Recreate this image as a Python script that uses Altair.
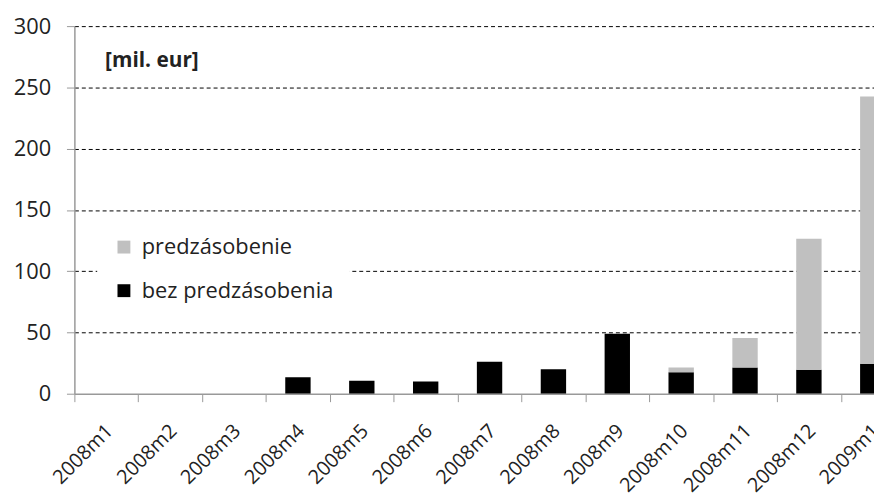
import altair as alt
import pandas as pd

months = ["2008m1", "2008m2", "2008m3", "2008m4", "2008m5", "2008m6", "2008m7",
          "2008m8", "2008m9", "2008m10", "2008m11", "2008m12", "2009m1"]
bez = [0, 0, 0, 13.5, 10.5, 10, 26, 20, 49, 17.5, 21.5, 19.5, 24.5]
pred = [0, 0, 0, 0, 0, 0, 0, 0, 0, 4, 24, 107, 218]

series_names = ["predzásobenie", "bez predzásobenia"]
colors = ["#C0C0C0", "#000000"]

rows = []
for m, b, p in zip(months, bez, pred):
    rows.append({"mesiac": m, "seria": "bez predzásobenia", "hodnota": b, "ord": 0})
    rows.append({"mesiac": m, "seria": "predzásobenie", "hodnota": p, "ord": 1})
df = pd.DataFrame(rows)

FONT = "Open Sans"

bars = alt.Chart(df).mark_bar(width=25.6, clip=True).encode(
    x=alt.X("mesiac:N", sort=months, title=None,
            scale=alt.Scale(range=[0, 838], paddingInner=0, paddingOuter=0),
            axis=alt.Axis(labelAngle=-45, labelAlign="right", labelBaseline="top",
                          labelFont=FONT, labelFontSize=20, labelColor="#222",
                          labelPadding=19, labelOffset=-4,
                          tickBand="extent", tickSize=8, tickColor="#999",
                          domainColor="#999", domainWidth=1.5, grid=False)),
    y=alt.Y("hodnota:Q", stack="zero", title=None,
            scale=alt.Scale(domain=[0, 300], nice=False),
            axis=alt.Axis(values=[0, 50, 100, 150, 200, 250, 300],
                          labelFont=FONT, labelFontSize=22, labelColor="#222",
                          labelPadding=16, tickSize=8, tickColor="#999",
                          domainColor="#999", domainWidth=1.5,
                          grid=True, gridColor="#000", gridWidth=1, gridDash=[4, 3],
                          gridOpacity={"condition": {"test": "datum.value === 0", "value": 0}, "value": 1})),
    color=alt.Color("seria:N", scale=alt.Scale(domain=series_names, range=colors),
                    legend=alt.Legend(title=None, orient="none", legendX=23, legendY=196,
                                      fillColor="white", padding=16, symbolType="square",
                                      symbolSize=169, symbolStrokeWidth=0,
                                      labelFont=FONT, labelFontSize=22, labelColor="#222",
                                      labelOffset=7, rowPadding=22, labelLimit=400)),
    order=alt.Order("ord:Q", sort="ascending"),
)

note = alt.Chart(pd.DataFrame({"t": ["[mil. eur]"]})).mark_text(
    align="left", baseline="middle", font=FONT, fontSize=21, fontWeight="bold", color="#222"
).encode(text="t:N", x=alt.value(31), y=alt.value(35))

chart = alt.layer(bars, note).properties(
    width=807, height=371,
    autosize=alt.AutoSizeParams(type="none"),
    padding={"left": 67, "top": 16, "right": 0, "bottom": 108},
).configure_view(stroke=None)

chart.save("out.html", embed_options={"renderer": "svg", "actions": False})
